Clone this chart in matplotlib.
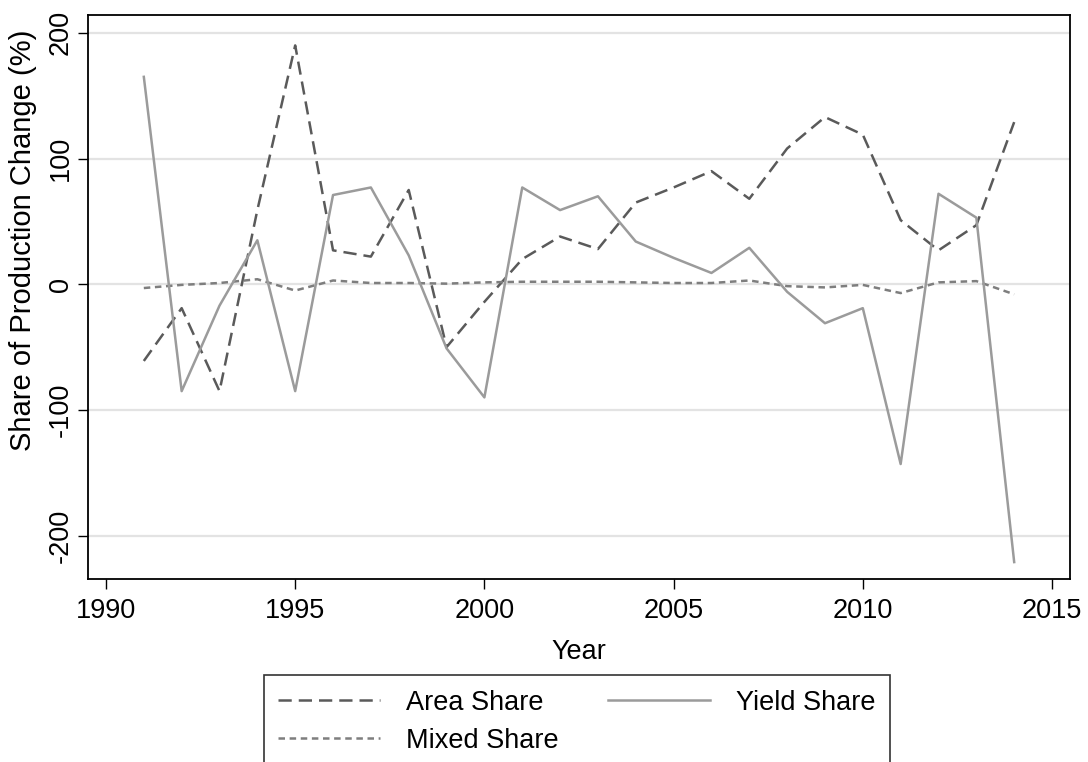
import matplotlib
matplotlib.use("Agg")
import matplotlib.pyplot as plt

plt.rcParams['font.family'] = ['Liberation Sans', 'DejaVu Sans']
plt.rcParams['axes.unicode_minus'] = False

years = list(range(1991, 2015))
area_share = [-61, -19, -85, 59, 190, 27, 22, 75, -50, -14, 20, 38, 28, 65, 77, 90,
              68, 108, 133, 119, 51, 27, 47, 129]
yield_share = [165, -85, -17, 35, -85, 71, 77, 23, -51, -90, 77, 59, 70, 34, 21, 9,
               29, -6, -31, -19, -143, 72, 53, -221]
mixed_share = [-3, -0.5, 1, 4, -5, 3, 1, 1, 0.5, 1.5, 2, 2, 2, 1.5, 1, 1,
               3, -1.5, -2.5, -0.5, -7, 1.5, 2.5, -8]

x_ticks = [1990, 1995, 2000, 2005, 2010, 2015]
y_ticks = [-200, -100, 0, 100, 200]

W, H = 1088, 762
fig = plt.figure(figsize=(W / 100, H / 100), dpi=100)
ax = fig.add_axes([87.7 / W, 1 - 579.3 / H, (1070 - 87.7) / W, (579.3 - 15) / H])

lw = 1.8
ax.plot(years, area_share, color='#5a5a5a', lw=lw, dashes=(5.3, 2.8), label='Area Share', zorder=3)
ax.plot(years, mixed_share, color='#7e7e7e', lw=lw, dashes=(2.6, 1.85), label='Mixed Share', zorder=3)
ax.plot(years, yield_share, color='#9b9b9b', lw=lw, label='Yield Share', zorder=3)

ax.set_xlim(1989.517, 2015.475)
ax.set_ylim(-234.7, 214.2)
ax.set_xticks(x_ticks)
ax.set_yticks(y_ticks)
ax.grid(axis='y', color='#e3e3e3', lw=1.6, zorder=0)
ax.set_axisbelow(True)

for s in ax.spines.values():
    s.set_linewidth(1.3)
    s.set_color('black')

ax.tick_params(axis='both', direction='out', length=7.5, width=1.0, labelsize=19.5, color='black')
ax.tick_params(axis='x', pad=6)
ax.tick_params(axis='y', pad=2.5)
for lab in ax.get_yticklabels():
    lab.set_rotation(90)
    lab.set_va('center')

ax.set_xlabel('Year', fontsize=19.5, labelpad=11)
ax.set_ylabel('Share of Production Change (%)', fontsize=21)
ax.yaxis.set_label_coords(-0.0516, 0.60)

handles, labels = ax.get_legend_handles_labels()
leg = fig.legend(handles, labels, loc='upper left',
                 bbox_to_anchor=(263.5 / W, 1 - 674.7 / H),
                 ncol=2, fontsize=19.5, frameon=True, fancybox=False,
                 edgecolor='black', handlelength=3.75, handletextpad=0.95,
                 columnspacing=1.85, borderpad=0.55, labelspacing=0.45,
                 borderaxespad=0)
leg.get_frame().set_linewidth(1.2)

fig.savefig('out.png', dpi=100)
